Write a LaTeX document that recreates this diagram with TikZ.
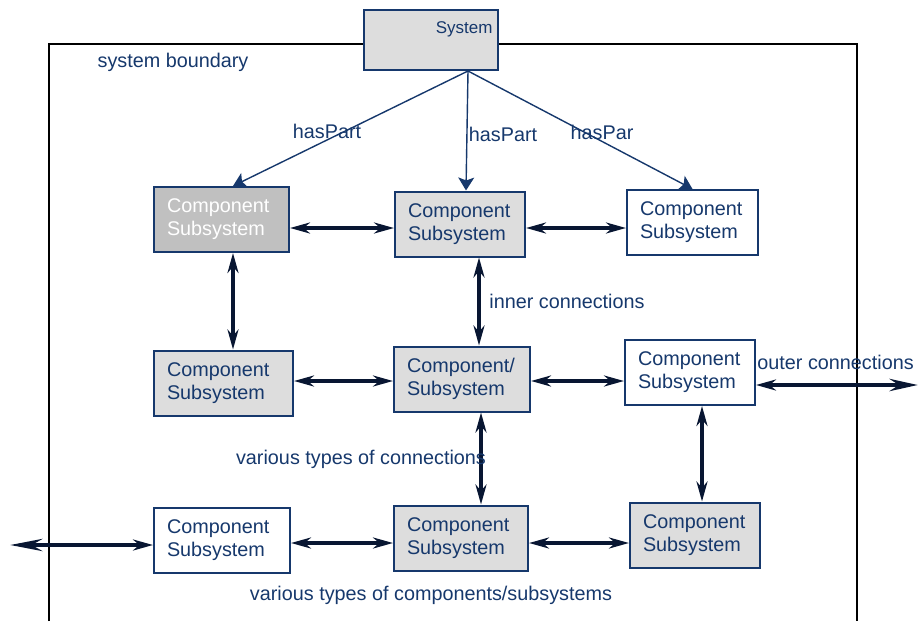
\documentclass[tikz,border=0pt]{standalone}
\usepackage{fontspec}
\setmainfont{Liberation Sans}
\usetikzlibrary{arrows.meta}
\definecolor{navy}{RGB}{22,56,108}
\definecolor{linkcol}{RGB}{8,22,50}
\definecolor{lightgrey}{RGB}{221,221,221}
\definecolor{midgrey}{RGB}{192,192,192}

\begin{document}
\begin{tikzpicture}[x=0.5pt,y=-0.5pt,
    box/.style={draw=navy, line width=1pt, text width=#1, inner xsep=6.5pt, minimum height=32.5pt,
        align=left, text=navy, font=\fontsize{9.9}{11.5}\selectfont},
    box/.default=53pt,
    lbl/.style={text=navy, inner sep=0pt, font=\fontsize{9.9}{11.5}\selectfont},
    link/.style={{Stealth[length=10pt,width=5.5pt]}-{Stealth[length=10pt,width=5.5pt]},
        line width=2.3pt, draw=linkcol},
    part/.style={-{Stealth[length=6.5pt,width=8pt,inset=1.5pt]}, line width=0.7pt, draw=navy}]
    \useasboundingbox (0,0) rectangle (920,621);
    % the system boundary
    \draw[line width=0.8pt] (49,621) -- (49,44) -- (857,44) -- (857,621);
    \node[lbl] (boundary) at (173,62) {system boundary};
    % the system on top
    \node[draw=navy, line width=1pt, fill=lightgrey, text=navy, minimum height=30pt, text width=62pt,
        align=right, inner xsep=2.5pt, inner ysep=5pt, text height=6.5pt, text depth=13.5pt,
        font=\fontsize{8.5}{10}\selectfont] (sys) at (430.5,40) {System};
    \coordinate (hub) at (468,71);
    % the components / subsystems
    \node[box=54.5pt, fill=midgrey, text=white] (a1) at (221.5,219.5) {Component\\Subsystem};
    \node[box=52pt, fill=lightgrey] (a2) at (460,224) {Component\\Subsystem};
    \node[box=52.5pt, fill=white] (a3) at (692.5,222.5) {Component\\Subsystem};

    \node[box=56.5pt, fill=lightgrey] (b1) at (223.5,383) {Component\\Subsystem};
    \node[box=55pt, fill=lightgrey] (b2) at (462,379) {Component/\\Subsystem};
    \node[box=52pt, fill=white] (b3) at (690,372.5) {Component\\Subsystem};

    \node[box=55pt, fill=white] (c1) at (222,540.5) {Component\\Subsystem};
    \node[box=54pt, fill=lightgrey] (c2) at (461,538) {Component\\Subsystem};
    \node[box=52pt, fill=lightgrey] (c3) at (695,535) {Component\\Subsystem};

    % hasPart arrows
    \draw[part] (hub) -- ([xshift=5.75pt]a1.north);
    \draw[part] (hub) -- ([xshift=3pt]a2.north);
    \draw[part] (hub) -- (a3.north);
    \node[lbl] (hp1) at (327,131) {hasPart};
    \node[lbl] (hp2) at (503,134) {hasPart};
    \node[lbl] (hp3) at (602,132) {hasPar};

    % the connections
    \draw[link] ([yshift=-4.25pt]a1.east) -- ([yshift=-4.25pt]a1.east -| a2.west);
    \draw[link] ([yshift=-2pt]a2.east) -- ([yshift=-2pt]a2.east -| a3.west);
    \draw[link] ([xshift=5.75pt]a1.south) -- ([xshift=5.75pt]a1.south |- b1.north);
    \draw[link] ([xshift=9.5pt]a2.south) -- ([xshift=9.5pt]a2.south |- b2.north);
    \draw[link] ([yshift=1pt]b1.east) -- ([yshift=1pt]b1.east -| b2.west);
    \draw[link] ([yshift=-1pt]b2.east) -- ([yshift=-1pt]b2.east -| b3.west);
    \draw[link] ([xshift=9.5pt]b2.south) -- ([xshift=9.5pt]b2.south |- c2.north);
    \draw[link] ([xshift=6pt]b3.south) -- ([xshift=6pt]b3.south |- c3.north);
    \draw[link] ([yshift=-1.25pt]c1.east) -- ([yshift=-1.25pt]c1.east -| c2.west);
    \draw[link] ([yshift=-2.5pt]c2.east) -- ([yshift=-2.5pt]c2.east -| c3.west);
    % outer connections
    \coordinate (eastend) at (918,385);
    \coordinate (westend) at (10,545);
    \draw[link, {Stealth[length=10pt,width=5.5pt]}-{Stealth[length=14pt,width=6pt]}]
        ([yshift=-6.25pt]b3.east) -- (eastend);
    \draw[link, {Stealth[length=16pt,width=6pt]}-{Stealth[length=10pt,width=5.5pt]}]
        (westend) -- ([yshift=-2.25pt]c1.west);

    % the texts
    \node[lbl] (inner) at (567,301) {inner connections};
    \node[lbl, anchor=west] (outer) at (757,362) {outer connections};
    \node[lbl] (vconn) at (361,459) {various types of connections};
    \node[lbl] (vcomp) at (431,595) {various types of components/subsystems};
\end{tikzpicture}
\end{document}
